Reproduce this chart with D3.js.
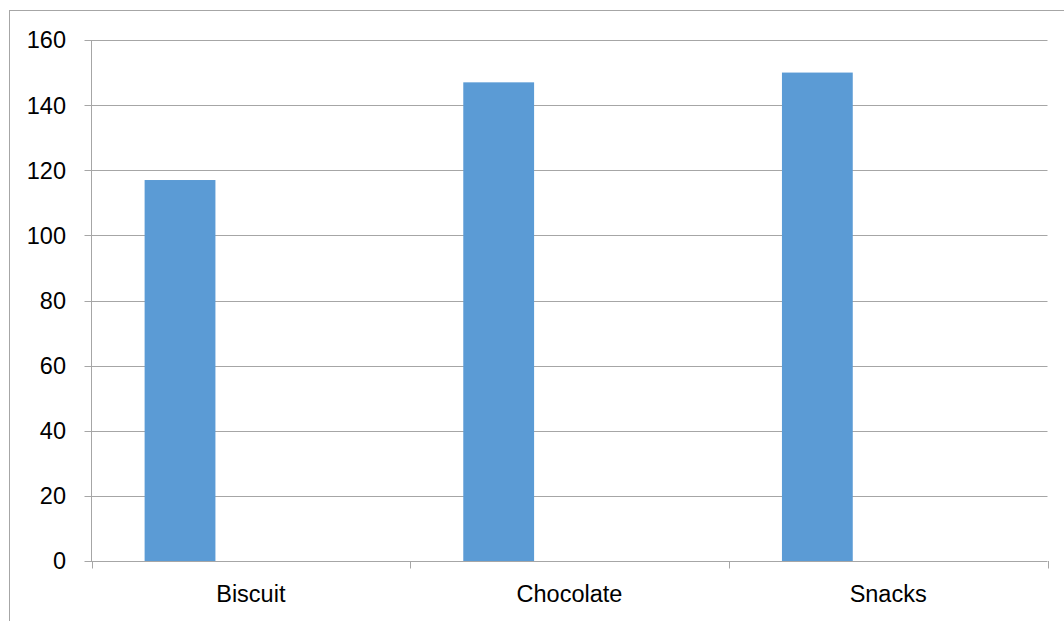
<!DOCTYPE html>
<html>
<head>
<meta charset="utf-8">
<script src="https://cdn.jsdelivr.net/npm/d3@7"></script>
<style>
  html, body { margin: 0; padding: 0; background: #fff; }
  svg { display: block; }
  text { font-family: "Liberation Sans", Arial, sans-serif; fill: #000; }
</style>
</head>
<body>
<svg id="chart" width="1064" height="621"></svg>
<script>
// Data
const categories = ["Biscuit", "Chocolate", "Snacks"];
const seriesNames = ["Series1", "Series2", "Series3"];
const series1 = [117, 147, 150];
const series2 = [null, null, null];
const series3 = [null, null, null];
const yTicks = [0, 20, 40, 60, 80, 100, 120, 140, 160];

const allSeries = [series1, series2, series3];

const svg = d3.select("#chart");
const W = 1064, H = 621;

// Outer chart border (extends past right/bottom edges as in reference)
svg.append("rect")
  .attr("x", 9.5).attr("y", 10.5)
  .attr("width", 1200).attr("height", 800)
  .attr("fill", "#fff")
  .attr("stroke", "#a6a6a6").attr("stroke-width", 1);

const plot = { left: 91.5, right: 1047.5, top: 40, bottom: 561 };

const x0 = d3.scaleBand().domain(categories).range([plot.left, plot.right]).padding(0);
const x1 = d3.scaleBand().domain(seriesNames).range([0, x0.bandwidth()])
  .paddingInner(0).paddingOuter(0.75);
const y = d3.scaleLinear().domain([0, 160]).range([plot.bottom, plot.top]);

const fontSize = 23.5;
const gridColor = "#a6a6a6";

// Gridlines
svg.append("g").selectAll("line").data(yTicks).join("line")
  .attr("x1", plot.left - 7).attr("x2", plot.right)
  .attr("y1", d => Math.round(y(d)) + 0.5).attr("y2", d => Math.round(y(d)) + 0.5)
  .attr("stroke", gridColor).attr("stroke-width", 1);

// Y axis line
svg.append("line")
  .attr("x1", plot.left).attr("x2", plot.left)
  .attr("y1", y(160)).attr("y2", y(0) + 0.5)
  .attr("stroke", gridColor).attr("stroke-width", 1);

// X axis ticks at band boundaries
const bounds = categories.map(c => x0(c)).concat([plot.right]);
svg.append("g").selectAll("line").data(bounds).join("line")
  .attr("x1", d => Math.round(d) + 0.5).attr("x2", d => Math.round(d) + 0.5)
  .attr("y1", y(0)).attr("y2", y(0) + 7.5)
  .attr("stroke", gridColor).attr("stroke-width", 1);

// Bars
allSeries.forEach((vals, si) => {
  svg.append("g").selectAll("rect")
    .data(vals.map((v, i) => ({ v, c: categories[i] })).filter(d => d.v != null))
    .join("rect")
    .attr("x", d => x0(d.c) + x1(seriesNames[si]))
    .attr("width", x1.bandwidth())
    .attr("y", d => y(d.v))
    .attr("height", d => y(0) - y(d.v))
    .attr("fill", "#5b9bd5");
});

// Y labels
svg.append("g").selectAll("text").data(yTicks).join("text")
  .attr("x", 66)
  .attr("y", d => y(d))
  .attr("dy", "0.36em")
  .attr("text-anchor", "end")
  .attr("font-size", fontSize)
  .text(d => d);

// X labels
svg.append("g").selectAll("text").data(categories).join("text")
  .attr("x", d => x0(d) + x0.bandwidth() / 2)
  .attr("y", 602)
  .attr("text-anchor", "middle")
  .attr("font-size", fontSize)
  .text(d => d);
</script>
</body>
</html>
